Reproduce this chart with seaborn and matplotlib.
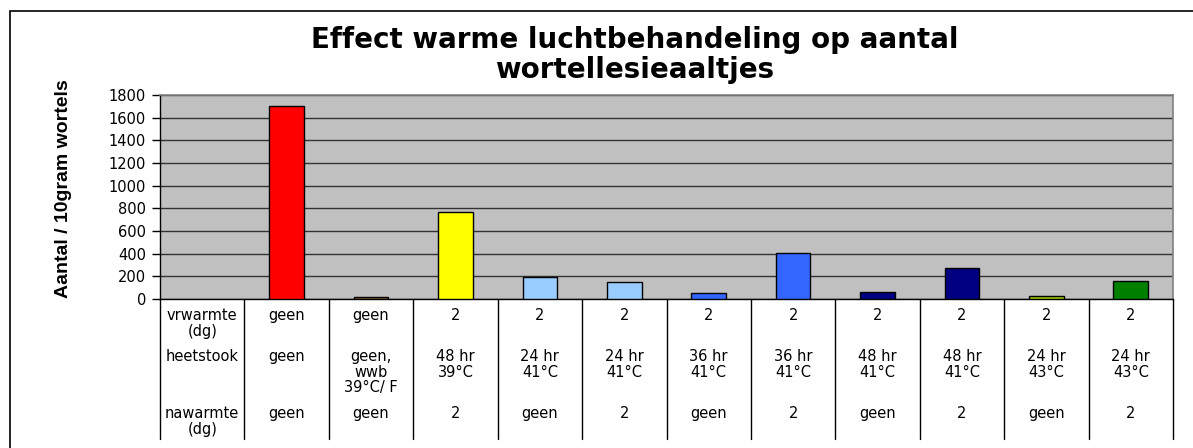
import matplotlib
matplotlib.use("Agg")
import matplotlib.pyplot as plt
import matplotlib.transforms as mtransforms
from matplotlib.patches import Rectangle
import seaborn as sns
import pandas as pd

# ----------------------------
# data
# ----------------------------
categories = ["c0", "c1", "c2", "c3", "c4", "c5", "c6", "c7", "c8", "c9", "c10", "c11"]
counts = [0, 1700, 18, 765, 197, 147, 50, 408, 65, 276, 23, 156]
bar_colors = ["#FFFFFF", "#FF0000", "#996633", "#FFFF00", "#99CCFF", "#99CCFF",
              "#3366FF", "#3366FF", "#000080", "#000080", "#99CC00", "#008000"]

row_vrwarmte = ["vrwarmte\n(dg)", "geen", "geen", "2", "2", "2", "2", "2", "2", "2", "2", "2"]
row_heetstook = ["heetstook", "geen", "geen,\nwwb\n39°C/ F", "48 hr\n39°C", "24 hr\n41°C",
                 "24 hr\n41°C", "36 hr\n41°C", "36 hr\n41°C", "48 hr\n41°C", "48 hr\n41°C",
                 "24 hr\n43°C", "24 hr\n43°C"]
row_nawarmte = ["nawarmte\n(dg)", "geen", "geen", "2", "geen", "2", "geen", "2", "geen",
                "2", "geen", "2"]

title = "Effect warme luchtbehandeling op aantal\nwortellesieaaltjes"
ylabel = "Aantal / 10gram wortels"

df = pd.DataFrame({"cat": categories, "count": counts})

# ----------------------------
# figure
# ----------------------------
sns.set_style("white")
plt.rcParams["font.family"] = ["DejaVu Sans"]
plt.rcParams["text.color"] = "black"
plt.rcParams["ytick.labelcolor"] = "black"

fig = plt.figure(figsize=(11.93, 4.48), dpi=100)
ax = fig.add_axes([160 / 1193, 1 - 299 / 448, (1173 - 160) / 1193, (299 - 95) / 448])
ax.set_facecolor("#C0C0C0")

sns.barplot(data=df, x="cat", y="count", hue="cat", palette=bar_colors, legend=False,
            saturation=1, width=0.41, edgecolor="black", linewidth=1.0, ax=ax, zorder=3)
# the first column is the row-label column: no bar there
ax.patches[0].set_visible(False)

ax.set_ylim(0, 1800)
ax.set_xlim(-0.5, len(categories) - 0.5)
ax.set_yticks(range(0, 1801, 200))
ax.yaxis.grid(True, color="#333333", linewidth=1.0, zorder=1)
ax.set_axisbelow(True)
ax.tick_params(axis="y", length=6, width=1, color="black", labelsize=10.5, pad=4, left=True)
ax.tick_params(axis="x", bottom=False, labelbottom=False)
ax.set_xlabel("")
ax.set_ylabel("")

for side in ["top", "right"]:
    ax.spines[side].set_color("#808080")
    ax.spines[side].set_linewidth(1.2)
for side in ["left", "bottom"]:
    ax.spines[side].set_color("black")
    ax.spines[side].set_linewidth(1.0)

# ----------------------------
# data table below the axis
# ----------------------------
trans = mtransforms.blended_transform_factory(ax.transData, fig.transFigure)
y_top = 1 - 299 / 448
y_bot = 1 - 439 / 448
for i in range(len(categories) + 1):
    ax.plot([i - 0.5, i - 0.5], [y_top, y_bot], transform=trans, color="black",
            linewidth=1.0, clip_on=False)

row_y = [1 - 308 / 448, 1 - 349 / 448, 1 - 406 / 448]
for y, row in zip(row_y, [row_vrwarmte, row_heetstook, row_nawarmte]):
    for i, txt in enumerate(row):
        ax.text(i, y, txt, transform=trans, ha="center", va="top", fontsize=10.5,
                linespacing=1.05, clip_on=False)

# ----------------------------
# titles and frame
# ----------------------------
fig.text(635 / 1193, 1 - 55 / 448, title, ha="center", va="center", fontsize=20,
         fontweight="bold", linespacing=1.05)
fig.text(63 / 1193, 1 - 189 / 448, ylabel, rotation=90, ha="center", va="center",
         fontsize=14, fontweight="bold", family=["Liberation Sans", "DejaVu Sans"])

fig.patches.append(Rectangle((10 / 1193, -0.1), 1.2, 1 - 11 / 448 + 0.1,
                             transform=fig.transFigure, fill=False,
                             edgecolor="black", linewidth=1.2))

fig.savefig("out.png", dpi=100, facecolor="white")
